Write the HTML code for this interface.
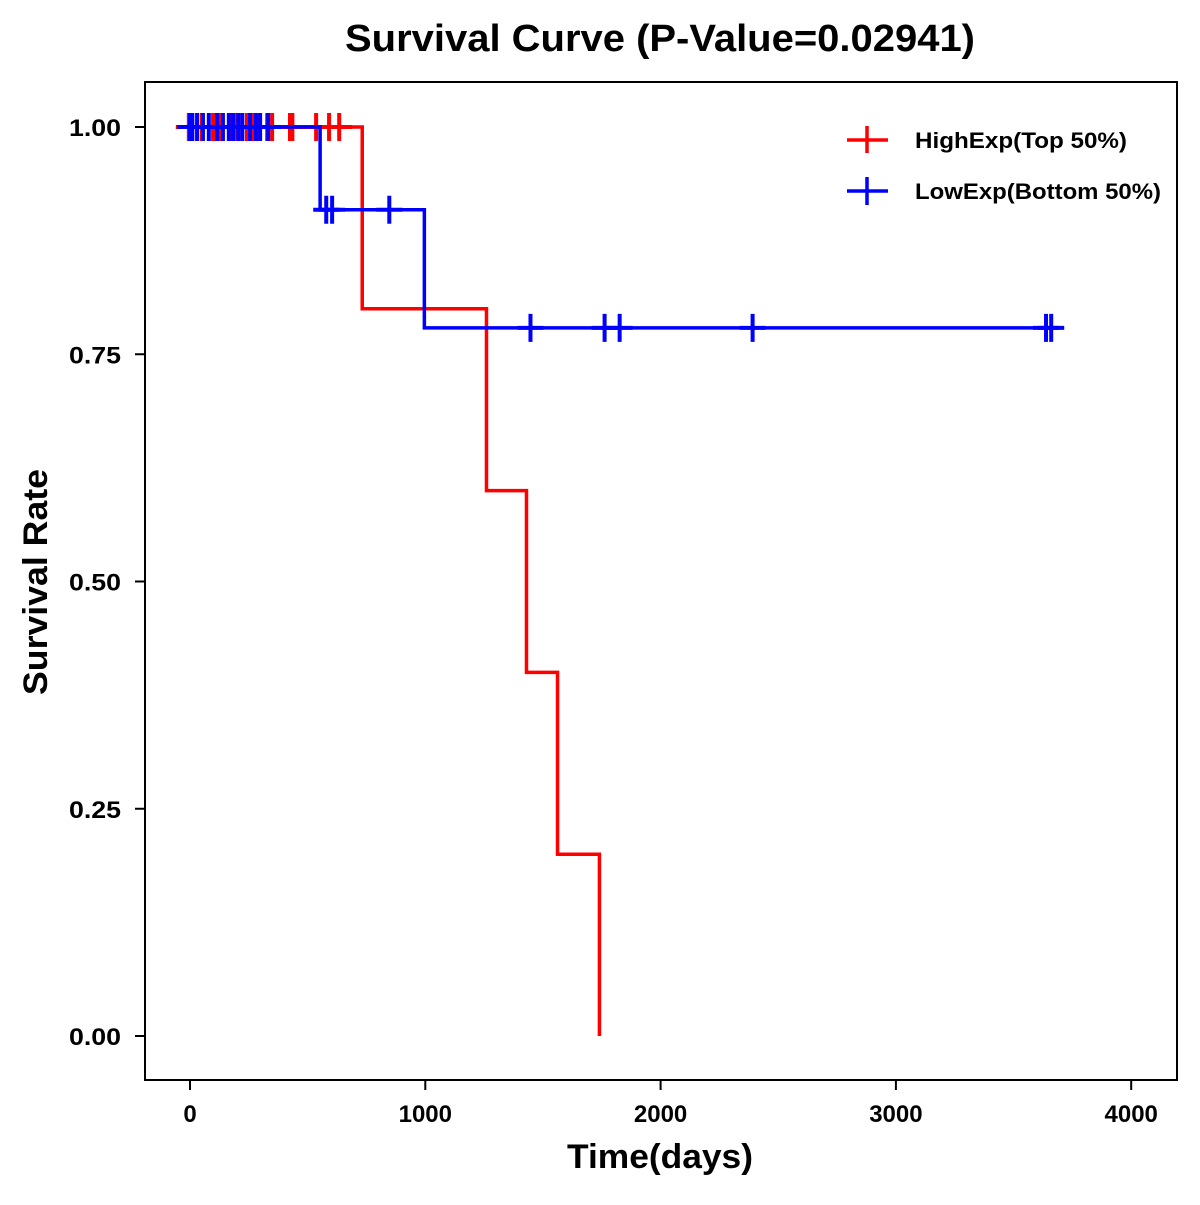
<!DOCTYPE html>
<html><head><meta charset="utf-8"><style>
body{margin:0;background:#fff}
svg text{font-family:"Liberation Sans",Arial,sans-serif;font-weight:bold}
</style></head><body>
<svg id="c" width="1200" height="1200">
<text x="660" y="51" text-anchor="middle" font-size="38" textLength="630" lengthAdjust="spacingAndGlyphs">Survival Curve (P-Value=0.02941)</text>
<rect x="145" y="82" width="1032" height="998" fill="none" stroke="#000" stroke-width="2"/>
<g id="axes"></g>
<g id="series"></g>
<text x="660" y="1168" text-anchor="middle" font-size="34" textLength="186" lengthAdjust="spacingAndGlyphs">Time(days)</text>
<text transform="translate(47,582) rotate(-90)" text-anchor="middle" font-size="34" textLength="226" lengthAdjust="spacingAndGlyphs">Survival Rate</text>
<g>
<g>
<line x1="847" y1="140" x2="888" y2="140" stroke="#f00" stroke-width="3.5"/><line x1="867" y1="126" x2="867" y2="153" stroke="#f00" stroke-width="3.5"/>
<text x="915" y="148" font-size="22" textLength="212" lengthAdjust="spacingAndGlyphs">HighExp(Top 50%)</text></g>
<g>
<line x1="847" y1="191" x2="888" y2="191" stroke="#00f" stroke-width="3.5"/><line x1="867" y1="177" x2="867" y2="205" stroke="#00f" stroke-width="3.5"/>
<text x="915" y="199" font-size="22" textLength="246" lengthAdjust="spacingAndGlyphs">LowExp(Bottom 50%)</text></g>
</g>
</svg>
<script>
const xTicks=[0,1000,2000,3000,4000];
const yTicks=[0,0.25,0.5,0.75,1];
const yTickLabels=["0.00","0.25","0.50","0.75","1.00"];
const highStepTimes=[0,732,1260,1430,1562,1740];
const highStepSurv=[1,0.8,0.6,0.4,0.2,0];
const highCensorTimes=[-5,50,98,128,179,200,222,242,264,290,328,349,425,435,536,591,634];
const highCensorSurv=[1,1,1,1,1,1,1,1,1,1,1,1,1,1,1,1,1];
const lowStepTimes=[0,553,996];
const lowStepSurv=[1,0.909,0.779];
const lowEnd=3660;
const lowCensorTimes=[0,10,30,55,80,115,140,165,183,205,222,255,280,298,332,579,604,847,1447,1762,1826,2391,3638,3660];
const lowCensorSurv=[1,1,1,1,1,1,1,1,1,1,1,1,1,1,1,0.909,0.909,0.909,0.779,0.779,0.779,0.779,0.779,0.779];
const X=t=>190+t*0.2353, Y=s=>1036-s*909;
const NS="http://www.w3.org/2000/svg";
function mk(tag,attrs,parent){const e=document.createElementNS(NS,tag);for(const k in attrs)e.setAttribute(k,attrs[k]);parent.appendChild(e);return e;}
const ax=document.getElementById('axes'), se=document.getElementById('series');
xTicks.forEach(t=>{
 const l=mk('line',{x1:X(t),x2:X(t),y1:1080,y2:1090,stroke:'#000','stroke-width':2},ax);
 
 
 const tx=mk('text',{x:X(t),y:1122,'text-anchor':'middle','font-size':24},ax);tx.textContent=t;
 
 
});
yTicks.forEach((v,i)=>{
 const l=mk('line',{x1:135,x2:145,y1:Y(v),y2:Y(v),stroke:'#000','stroke-width':2},ax);
 
 
 const tx=mk('text',{x:121,y:Y(v)+9,'text-anchor':'end','font-size':24,textLength:52,lengthAdjust:'spacingAndGlyphs'},ax);tx.textContent=yTickLabels[i];
 
 
});
function steps(times,surv,end){
 let d='M'+X(times[0])+','+Y(surv[0]);
 for(let i=1;i<times.length;i++){d+=' H'+X(times[i])+' V'+Y(surv[i]);}
 if(end!=null)d+=' H'+X(end);
 return d;
}
function drawSeries(name,color,times,surv,end,ct,cs){
 const g=mk('g',{},se);
 
 
 const p=mk('path',{d:steps(times,surv,end),fill:'none',stroke:color,'stroke-width':3.5},g);
 
 
 ct.forEach((t,i)=>{
  const x=X(t),y=Y(cs[i]);
  const c=mk('path',{d:`M${x-13},${y}H${x+13}M${x},${y-14}V${y+14}`,stroke:color,'stroke-width':4},g);
  
  
 });
}
drawSeries('high-exp','#f00',highStepTimes,highStepSurv,null,highCensorTimes,highCensorSurv);
drawSeries('low-exp','#00f',lowStepTimes,lowStepSurv,lowEnd,lowCensorTimes,lowCensorSurv);
</script>
</body></html>
